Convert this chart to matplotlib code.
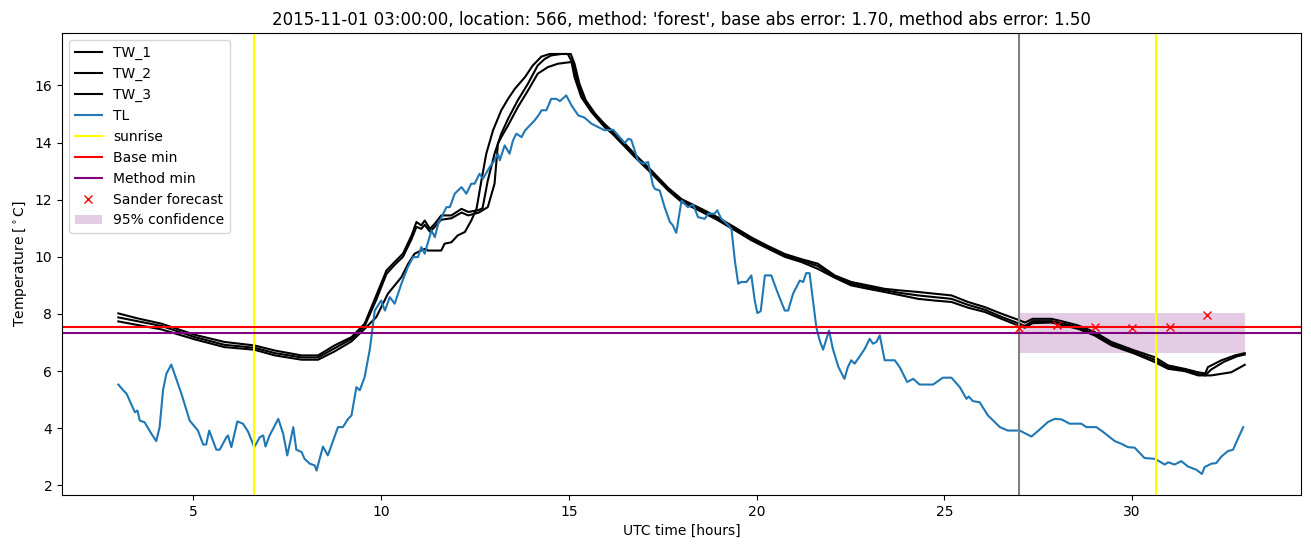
import matplotlib
matplotlib.use('Agg')
import matplotlib.pyplot as plt

# wire temperatures (three sensors)
tw1_hours = [3.0, 3.5, 4.15, 5.04, 5.83, 6.62, 7.17, 7.88, 8.32, 8.76, 9.21, 9.56, 9.87, 10.14, 10.36,
             10.58, 10.81, 10.94, 11.07, 11.16, 11.3, 11.43, 11.6, 11.87, 12.14, 12.32, 12.58, 12.7,
             12.84, 13.02, 13.2, 13.38, 13.64, 13.91, 14.17, 14.36, 14.53, 14.8, 15.05, 15.15, 15.28,
             15.45, 15.7, 15.95, 16.31, 16.75, 17.2, 17.64, 18.0, 18.53, 18.97, 19.42, 19.86, 20.3,
             20.75, 21.19, 21.63, 22.08, 22.52, 22.97, 23.41, 23.86, 24.3, 24.74, 25.19, 25.63, 26.08,
             26.52, 26.96, 27.15, 27.35, 27.85, 28.12, 28.56, 29.0, 29.45, 30.07, 30.6, 30.96, 31.4,
             31.76, 31.95, 32.02, 32.38, 32.74, 33.0]
tw1_temp = [8.02, 7.85, 7.66, 7.27, 7.02, 6.9, 6.72, 6.55, 6.55, 6.9, 7.19, 7.66, 8.65, 9.52, 9.82,
            10.11, 10.75, 11.22, 11.1, 11.27, 10.98, 11.16, 11.45, 11.45, 11.68, 11.57, 11.63, 11.7,
            12.67, 13.61, 14.31, 14.83, 15.48, 16.06, 16.7, 16.93, 17.05, 17.1, 17.1, 16.76, 16.06,
            15.48, 15.01, 14.65, 14.22, 13.6, 13.02, 12.42, 12.02, 11.68, 11.38, 11.03, 10.68, 10.38,
            10.1, 9.92, 9.76, 9.35, 9.12, 9.0, 8.88, 8.82, 8.77, 8.71, 8.65, 8.42, 8.24,
            8.01, 7.8, 7.7, 7.83, 7.83, 7.75, 7.6, 7.37, 7.02, 6.72, 6.49, 6.2, 6.08,
            5.96, 5.92, 6.14, 6.38, 6.55, 6.63]

tw2_hours = [3.0, 4.15, 5.04, 5.83, 6.62, 7.17, 7.88, 8.32, 8.76, 9.21, 9.56, 9.87, 10.14, 10.36,
             10.58, 10.81, 10.94, 11.07, 11.16, 11.3, 11.43, 11.6, 11.87, 12.14, 12.32, 12.6, 12.84,
             13.02, 13.11, 13.2, 13.38, 13.64, 13.91, 14.17, 14.44, 14.71, 15.07, 15.15, 15.33, 15.6,
             15.95, 16.31, 16.75, 17.2, 17.64, 18.0, 18.53, 18.97, 19.42, 19.86, 20.3, 20.75, 21.19,
             21.63, 22.08, 22.52, 22.97, 23.41, 23.86, 24.3, 24.74, 25.19, 25.63, 26.08, 26.52, 26.96,
             27.15, 27.35, 27.85, 28.12, 28.56, 29.0, 29.45, 30.07, 30.6, 30.96, 31.4, 31.76, 31.95,
             32.1, 32.45, 32.8, 33.0]
tw2_temp = [7.88, 7.58, 7.19, 6.92, 6.82, 6.63, 6.48, 6.48, 6.8, 7.13, 7.58, 8.5, 9.4, 9.72,
            10.0, 10.62, 11.05, 10.98, 11.12, 10.88, 11.05, 11.3, 11.35, 11.55, 11.45, 11.55, 11.74,
            12.56, 13.96, 14.19, 14.6, 15.24, 15.82, 16.41, 16.64, 16.76, 16.82, 16.29, 15.59, 15.07,
            14.54, 14.15, 13.55, 12.97, 12.38, 11.97, 11.63, 11.33, 10.98, 10.63, 10.34, 10.05, 9.87,
            9.68, 9.3, 9.06, 8.94, 8.83, 8.73, 8.65, 8.59, 8.53, 8.32, 8.15, 7.9, 7.68,
            7.58, 7.75, 7.75, 7.68, 7.53, 7.3, 6.96, 6.66, 6.4, 6.14, 6.04, 5.9, 5.85,
            6.05, 6.33, 6.52, 6.58]

tw3_hours = [3.0, 4.15, 5.04, 5.83, 6.62, 7.17, 7.88, 8.32, 8.76, 9.21, 9.56, 9.87, 10.18, 10.36,
             10.54, 10.72, 10.89, 11.16, 11.25, 11.6, 11.69, 11.87, 12.04, 12.23, 12.4, 12.54, 12.67,
             12.8, 12.98, 13.2, 13.38, 13.56, 13.83, 14.04, 14.27, 14.49, 14.8, 14.97, 15.11, 15.24,
             15.42, 15.68, 15.95, 16.31, 16.75, 17.2, 17.64, 18.0, 18.53, 18.97, 19.42, 19.86, 20.3,
             20.75, 21.19, 21.63, 22.08, 22.52, 22.97, 23.41, 23.86, 24.3, 24.74, 25.19, 25.63, 26.08,
             26.52, 26.96, 27.15, 27.35, 27.85, 28.12, 28.56, 29.0, 29.45, 30.07, 30.6, 30.96, 31.4,
             31.76, 32.11, 32.64, 33.0]
tw3_temp = [7.74, 7.46, 7.11, 6.84, 6.75, 6.55, 6.4, 6.4, 6.69, 7.04, 7.48, 7.89, 8.71, 9.0,
            9.29, 9.76, 10.11, 10.28, 10.22, 10.22, 10.46, 10.51, 10.75, 10.87, 11.27, 11.68, 12.67,
            13.61, 14.43, 15.13, 15.53, 15.88, 16.29, 16.7, 17.01, 17.1, 17.1, 17.1, 16.76, 16.06,
            15.48, 15.01, 14.6, 14.1, 13.5, 12.92, 12.33, 11.92, 11.58, 11.28, 10.93, 10.58, 10.29,
            10.0, 9.82, 9.58, 9.27, 9.0, 8.88, 8.77, 8.65, 8.53, 8.47, 8.42, 8.22, 8.07,
            7.83, 7.6, 7.52, 7.68, 7.7, 7.62, 7.48, 7.25, 6.9, 6.61, 6.32, 6.08, 6.0,
            5.85, 5.85, 5.96, 6.22]

# ground temperature
tl_hours = [3.0, 3.13, 3.22, 3.44, 3.51, 3.57, 3.7, 3.88, 4.01, 4.1, 4.19, 4.28, 4.41, 4.68, 4.9,
            5.12, 5.26, 5.34, 5.42, 5.61, 5.7, 5.88, 5.92, 6.01, 6.17, 6.32, 6.46, 6.62, 6.77, 6.86,
            6.92, 7.03, 7.26, 7.39, 7.5, 7.66, 7.74, 7.88, 7.96, 8.1, 8.23, 8.28, 8.45, 8.58, 8.85,
            8.98, 9.12, 9.21, 9.34, 9.43, 9.56, 9.7, 9.83, 10.0, 10.1, 10.23, 10.36, 10.54, 10.71,
            10.85, 10.98, 11.07, 11.16, 11.34, 11.43, 11.52, 11.74, 11.83, 11.96, 12.14, 12.27, 12.4,
            12.49, 12.62, 12.71, 12.89, 13.02, 13.11, 13.16, 13.29, 13.42, 13.51, 13.6, 13.74, 13.83,
            13.96, 14.09, 14.22, 14.27, 14.4, 14.53, 14.67, 14.76, 14.93, 15.07, 15.25, 15.42, 15.6,
            15.78, 15.95, 16.18, 16.35, 16.49, 16.58, 16.66, 16.84, 16.98, 17.11, 17.24, 17.29, 17.42,
            17.55, 17.69, 17.77, 17.86, 18.0, 18.17, 18.31, 18.44, 18.62, 18.71, 18.88, 18.95, 19.06,
            19.19, 19.33, 19.42, 19.51, 19.59, 19.73, 19.86, 19.95, 20.02, 20.11, 20.22, 20.39, 20.57,
            20.75, 20.84, 20.97, 21.15, 21.24, 21.32, 21.41, 21.59, 21.68, 21.77, 21.93, 22.03, 22.18,
            22.34, 22.43, 22.52, 22.61, 22.7, 22.88, 23.01, 23.1, 23.19, 23.28, 23.41, 23.68, 23.81,
            24.01, 24.17, 24.34, 24.7, 24.83, 24.96, 25.19, 25.41, 25.59, 25.65, 25.76, 25.94, 26.16,
            26.48, 26.69, 27.01, 27.14, 27.32, 27.49, 27.76, 27.94, 28.12, 28.34, 28.65, 28.78, 29.05,
            29.23, 29.54, 29.71, 29.89, 30.07, 30.33, 30.6, 30.73, 30.87, 30.96, 31.13, 31.31, 31.49,
            31.71, 31.86, 31.93, 32.11, 32.24, 32.38, 32.55, 32.69, 32.78, 32.96]
tl_temp = [5.53, 5.33, 5.21, 4.56, 4.62, 4.27, 4.21, 3.81, 3.55, 4.04, 5.33, 5.91, 6.23, 5.21, 4.27,
           3.92, 3.43, 3.43, 3.92, 3.25, 3.25, 3.69, 3.75, 3.34, 4.24, 4.16, 3.87, 3.34, 3.69, 3.75,
           3.36, 3.75, 4.33, 3.81, 3.05, 4.04, 3.25, 3.17, 2.93, 2.76, 2.7, 2.52, 3.36, 3.05, 4.04,
           4.04, 4.33, 4.45, 5.44, 5.33, 5.79, 6.78, 8.12, 8.47, 8.12, 8.59, 8.36, 9.06, 9.64,
           9.99, 9.99, 10.34, 10.11, 10.92, 10.69, 11.16, 11.74, 11.74, 12.21, 12.44, 12.21, 12.56,
           12.56, 12.91, 12.73, 13.14, 13.38, 13.61, 13.38, 13.9, 13.61, 14.07, 14.31, 14.19, 14.42,
           14.6, 14.78, 15.01, 15.13, 15.13, 15.53, 15.53, 15.45, 15.65, 15.3, 14.95, 14.87, 14.66,
           14.54, 14.43, 14.45, 14.19, 13.98, 14.13, 14.1, 13.37, 13.26, 13.32, 12.5, 12.38, 12.32,
           11.74, 11.22, 11.1, 10.84, 11.97, 11.74, 11.83, 11.39, 11.33, 11.51, 11.51, 11.63, 11.33,
           11.18, 10.98, 9.87, 9.06, 9.12, 9.12, 9.35, 8.47, 8.03, 8.1, 9.35, 9.35, 8.71,
           8.12, 8.12, 8.71, 9.17, 9.12, 9.43, 9.43, 7.54, 7.07, 6.75, 7.42, 6.78, 6.14,
           5.73, 6.14, 6.38, 6.26, 6.43, 6.78, 7.13, 6.96, 7.02, 7.25, 6.38, 6.38, 6.14,
           5.62, 5.73, 5.53, 5.53, 5.65, 5.77, 5.77, 5.44, 5.03, 5.11, 4.95, 4.91, 4.45,
           4.04, 3.92, 3.92, 3.83, 3.71, 3.9, 4.22, 4.33, 4.31, 4.16, 4.16, 4.04, 4.04,
           3.87, 3.55, 3.46, 3.34, 3.32, 2.96, 2.93, 2.84, 2.73, 2.81, 2.73, 2.85, 2.66,
           2.55, 2.4, 2.64, 2.76, 2.78, 3.01, 3.2, 3.25, 3.52, 4.04]

sunrise_hours = [6.62, 30.63]
forecast_start = 27.0
base_min = 7.54
method_min = 7.34

sander_hours = [27, 28, 29, 30, 31, 32]
sander_temp = [7.52, 7.63, 7.54, 7.52, 7.54, 7.98]
conf_hours = [27, 33]
conf_low = 6.62
conf_high = 8.03

title = ("2015-11-01 03:00:00, location: 566, method: 'forest', "
         "base abs error: 1.70, method abs error: 1.50")

fig, ax = plt.subplots(figsize=(13.11, 5.47), dpi=100)
fig.subplots_adjust(left=0.0473, right=0.9924, top=0.9397, bottom=0.0951)

ax.plot(tw1_hours, tw1_temp, color='black', label='TW_1')
ax.plot(tw2_hours, tw2_temp, color='black', label='TW_2')
ax.plot(tw3_hours, tw3_temp, color='black', label='TW_3')
ax.plot(tl_hours, tl_temp, color='C0', label='TL')
for i, s in enumerate(sunrise_hours):
    ax.axvline(s, color='yellow', label='sunrise' if i == 0 else None)
ax.axvline(forecast_start, color='gray')
ax.axhline(base_min, color='red', label='Base min')
ax.axhline(method_min, color='purple', label='Method min')
ax.plot(sander_hours, sander_temp, 'x', color='red', linestyle='none', label='Sander forecast')
ax.fill_between(conf_hours, conf_low, conf_high, color='purple', alpha=0.2, linewidth=0,
                label='95% confidence')

ax.set_title(title)
ax.set_xlabel('UTC time [hours]')
ax.set_ylabel(r'Temperature [$^\circ$C]')
ax.legend(loc='upper left')

fig.savefig('out.png', dpi=100)
